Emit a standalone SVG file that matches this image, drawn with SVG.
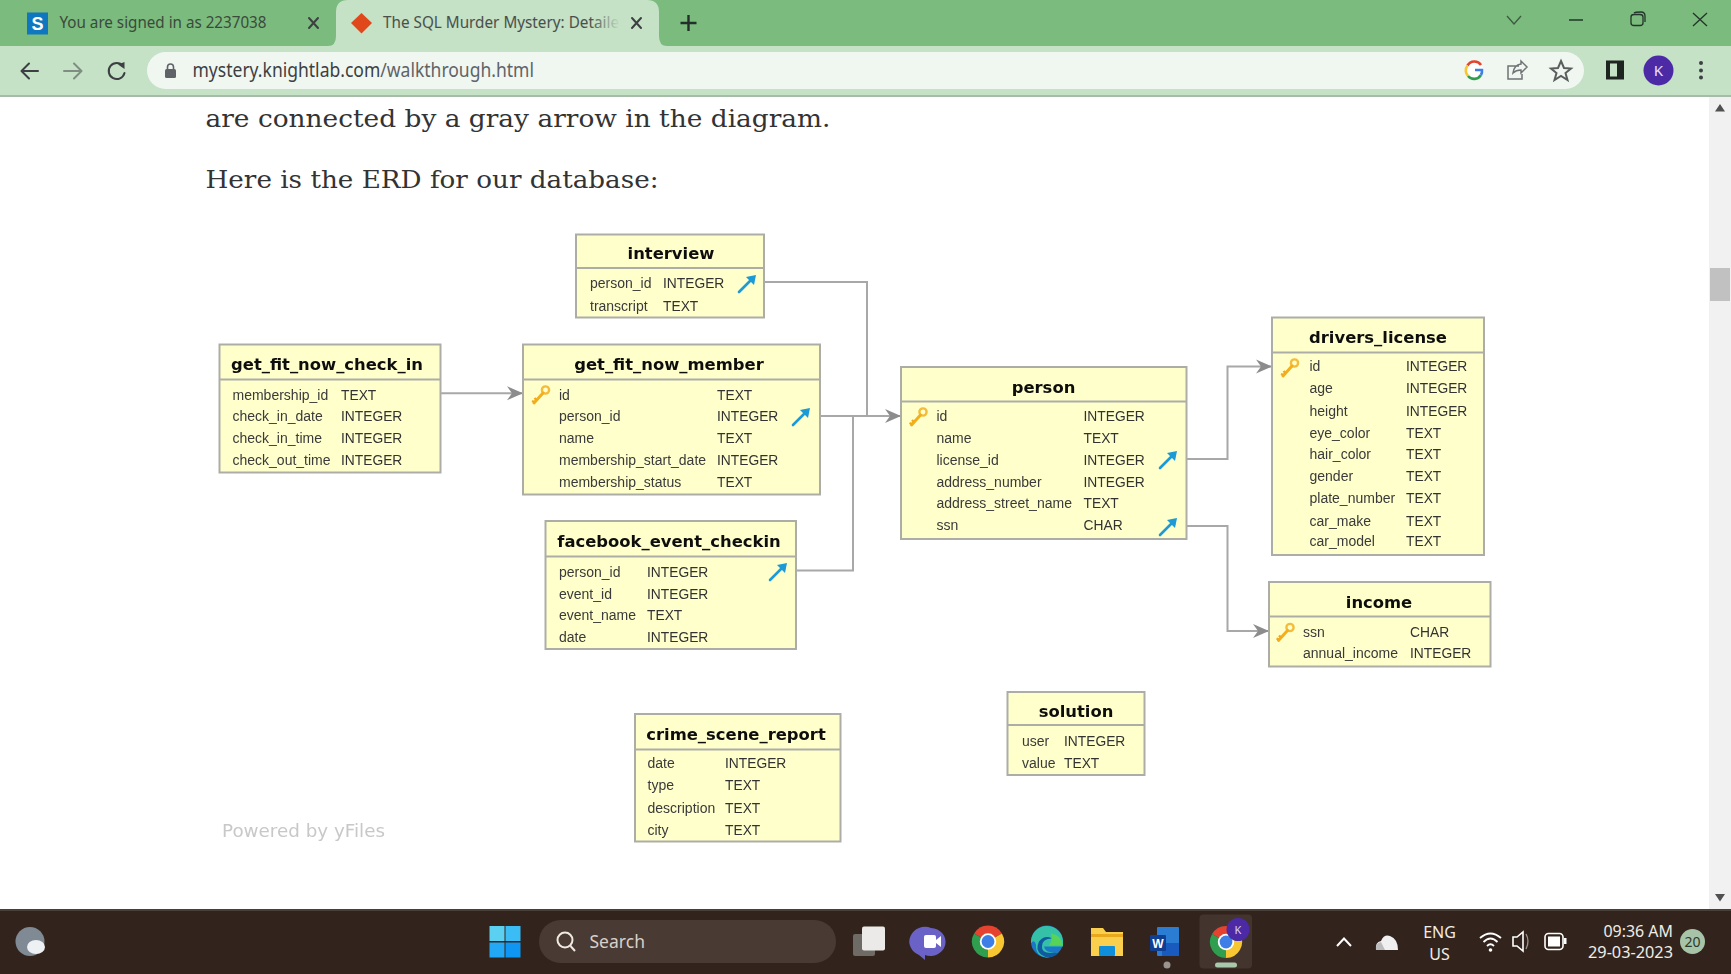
<svg xmlns="http://www.w3.org/2000/svg" xmlns:xlink="http://www.w3.org/1999/xlink" width="1731" height="974" viewBox="0 0 1731 974">
<style>
.box{fill:#ffffcc;stroke:#adada8;stroke-width:2}
.hdr{stroke:#adada8;stroke-width:2;fill:none}
.ttl{font:bold 16.4px "DejaVu Sans",sans-serif;fill:#111;text-anchor:middle}
.f{font:14px "Liberation Sans",Arial,sans-serif;fill:#3a3a3a}
.t{font:13.8px "Liberation Sans",Arial,sans-serif;fill:#333}
.cn{fill:none;stroke:#a8a8a8;stroke-width:2}
.ui{font-family:"Noto Sans","Open Sans",sans-serif}
.body{font-family:"DejaVu Serif","Liberation Serif",serif;font-size:24px;fill:#333}
.ic{fill:none;stroke:#3c4043;stroke-width:2;stroke-linecap:round;stroke-linejoin:round}
.tb{font-family:"Noto Sans","Open Sans",sans-serif;fill:#f0ece6;font-size:16px}
</style>
<defs>
<filter id="soft" x="-2%" y="-2%" width="104%" height="104%"><feGaussianBlur stdDeviation="0.5"/></filter>
<linearGradient id="fade" gradientUnits="userSpaceOnUse" x1="590" y1="0" x2="620" y2="0"><stop offset="0" stop-color="#4a4f4b"/><stop offset="1" stop-color="#c5e1c6"/></linearGradient>
<marker id="ah" viewBox="0 0 16 16" refX="15" refY="8" markerWidth="16" markerHeight="16" markerUnits="userSpaceOnUse" orient="auto"><path d="M0,1 L16,8 L0,15 L5,8 z" fill="#8c8c8c"/></marker>
<g id="key"><circle cx="14.5" cy="5" r="3.6" fill="none" stroke="#f4bc3c" stroke-width="2.4"/><path d="M12,8 L3,18" stroke="#f2b01e" stroke-width="3" fill="none" stroke-linecap="round"/><path d="M3.5,17 L1,16 M5.5,15 L3.5,13" stroke="#f2a81e" stroke-width="2.4" fill="none"/></g>
<g id="fk"><path d="M1,17 L15,3" stroke="#1c9ad6" stroke-width="2.6" fill="none" stroke-linecap="round"/><path d="M8,2 L18,0 L16,10 z" fill="#1c9ad6"/></g>
<g id="chrome"><path d="M0,0 L13.9,-8 A16,16 0 0 0 -13.9,-8 z" fill="#e5432f"/><path d="M0,0 L13.9,-8 A16,16 0 0 1 0,16 z" fill="#f8c630"/><path d="M0,0 L0,16 A16,16 0 0 1 -13.9,-8 z" fill="#2f9f4f"/><circle r="8.2" fill="#fff"/><circle r="6.4" fill="#3d7fe6"/></g>
</defs>
<rect width="1731" height="974" fill="#fff"/>

<g id="browser-chrome">
<rect width="1731" height="46" fill="#7bbb7d"/>
<path d="M328,46 Q336,46 336,36 L336,12 Q336,0 348,0 L647,0 Q659,0 659,12 L659,36 Q659,46 667,46 z" fill="#c5e1c6"/>
<rect y="46" width="1731" height="49" fill="#c5e1c6"/>
<rect y="95" width="1731" height="2" fill="#a6bba8"/>
<rect x="147" y="52" width="1437" height="37" rx="18.5" fill="#f0f7f1"/>
<rect x="27" y="12.5" width="21" height="22" fill="#0f77c0"/>
<text x="37.5" y="30" font-family="Liberation Sans,sans-serif" font-weight="bold" font-size="18" fill="#fff" text-anchor="middle">S</text>
<text class="ui" x="59.5" y="28" font-size="16" fill="#3a4a3c" textLength="207" lengthAdjust="spacingAndGlyphs">You are signed in as 2237038</text>
<path d="M309,18 L318,28 M318,18 L309,28" class="ic"/>
<path d="M361.5,13 L372,23 L361.5,33.5 L351,23 z" fill="#e0481c"/>
<text class="ui" x="383" y="28" font-size="16" fill="url(#fade)" textLength="236" lengthAdjust="spacingAndGlyphs">The SQL Murder Mystery: Detaile</text>
<path d="M632,18 L641,28 M641,18 L632,28" class="ic"/>
<path d="M688.5,15 V31 M680.5,23 H696.5" stroke="#23302a" stroke-width="2.4" fill="none"/>
<path d="M1507,16 L1514,24 L1521,16" fill="none" stroke="#3b5a40" stroke-width="1.3"/>
<path d="M1569,20 H1583" stroke="#22352a" stroke-width="1.5"/>
<path d="M1631,17 Q1631,14.5 1634,14.5 H1640 Q1643,14.5 1643,17 V23 Q1643,25.5 1640,25.5 H1634 Q1631,25.5 1631,23 z M1634,13 Q1635,12 1641,12 Q1645,12 1645,16 V22" fill="none" stroke="#22352a" stroke-width="1.3"/>
<path d="M1693,13 L1707,26 M1707,13 L1693,26" stroke="#22352a" stroke-width="1.3"/>
<path d="M38,71 H22 M29,63.5 L21.5,71 L29,78.5" class="ic"/>
<path d="M64,71 H81 M74,63.5 L81.5,71 L74,78.5" class="ic" style="stroke:#7f8d82"/>
<path d="M123,66 A8,8 0 1 0 124.5,73" class="ic"/><path d="M118,64.5 L124.5,62 L124.5,69 z" fill="#3c4043"/>
<rect x="165" y="69" width="11" height="9" rx="1.5" fill="#5f6368"/><path d="M167.5,69 V67 A3,3 0 0 1 173.5,67 V69" fill="none" stroke="#5f6368" stroke-width="1.6"/>
<text class="ui" x="192.5" y="77" font-size="19" fill="#3c4043" textLength="341.5" lengthAdjust="spacingAndGlyphs">mystery.knightlab.com<tspan fill="#5f6368">/walkthrough.html</tspan></text>
<circle cx="1474" cy="70.5" r="9.5" fill="#fff"/>
<path d="M1481,65 A8,8 0 0 0 1467.5,65.5" fill="none" stroke="#e5432f" stroke-width="2.6"/><path d="M1467.5,65.5 A8,8 0 0 0 1468,76" fill="none" stroke="#f8c630" stroke-width="2.6"/><path d="M1468,76 A8,8 0 0 0 1481,75" fill="none" stroke="#2f9f4f" stroke-width="2.6"/><path d="M1481,75 A8,8 0 0 0 1482,70 H1475" fill="none" stroke="#3d7fe6" stroke-width="2.6"/>
<path d="M1519,66 H1508 V79 H1522 V74 M1513,73 Q1514,65 1521,64 V61 L1527,67 L1521,73 V70 Q1516,70 1513,73 z" fill="none" stroke="#6f7376" stroke-width="1.5"/>
<path d="M1561,61 L1564,68 L1571,68.5 L1565.5,73 L1567.5,80 L1561,76 L1554.5,80 L1556.5,73 L1551,68.5 L1558,68 z" fill="none" stroke="#5a5f5d" stroke-width="2"/>
<rect x="1606" y="60.5" width="18" height="19" fill="#1e2420"/><rect x="1610" y="63.5" width="7" height="13" fill="#c5e1c6"/>
<circle cx="1658.5" cy="70.5" r="15" fill="#4c2aa6"/>
<text x="1658.5" y="76" class="ui" font-size="15" fill="#e8e0f8" text-anchor="middle">K</text>
<circle cx="1701" cy="63" r="2" fill="#3c4043"/><circle cx="1701" cy="70.5" r="2" fill="#3c4043"/><circle cx="1701" cy="77.5" r="2" fill="#3c4043"/>
</g>

<g id="page-text">
<text class="body" x="205.5" y="126.5" textLength="625" lengthAdjust="spacingAndGlyphs">are connected by a gray arrow in the diagram.</text>
<text class="body" x="205.5" y="188" textLength="453" lengthAdjust="spacingAndGlyphs">Here is the ERD for our database:</text>
</g>

<g id="scrollbar">
<rect x="1709" y="97" width="22" height="812" fill="#f1f1f1"/>
<path d="M1720,104 L1725,111.5 H1715 z" fill="#505050"/>
<rect x="1710" y="268" width="20" height="33" fill="#c1c1c1"/>
<path d="M1715,894 H1725 L1720,901.5 z" fill="#505050"/>
</g>

<g filter="url(#soft)">
<g id="connectors">
<path class="cn" d="M441,393.3 H522" marker-end="url(#ah)"/>
<path class="cn" d="M765,282 H867 V416"/>
<path class="cn" d="M796,570.5 H853 V416"/>
<path class="cn" d="M820,416 H900" marker-end="url(#ah)"/>
<path class="cn" d="M1186,459 H1227.5 V366.5 H1271" marker-end="url(#ah)"/>
<path class="cn" d="M1186,526 H1227.5 V631 H1268" marker-end="url(#ah)"/>
</g>

<g id="interview">
<rect class="box" x="576" y="234.5" width="188" height="83"/><path class="hdr" d="M576,268 H764"/>
<text class="ttl" x="671" y="259">interview</text>
<text class="f" x="590" y="288">person_id</text><text class="t" x="663" y="288">INTEGER</text>
<text class="f" x="590" y="310.5">transcript</text><text class="t" x="663" y="310.5">TEXT</text>
<use href="#fk" x="738" y="275"/>
</g>

<g id="get_fit_now_check_in">
<rect class="box" x="219.5" y="344.5" width="221" height="128"/><path class="hdr" d="M219.5,379.5 H440.5"/>
<text class="ttl" x="327" y="370">get_fit_now_check_in</text>
<text class="f" x="232.5" y="399.5">membership_id</text><text class="t" x="341" y="399.5">TEXT</text>
<text class="f" x="232.5" y="420.5">check_in_date</text><text class="t" x="341" y="420.5">INTEGER</text>
<text class="f" x="232.5" y="442.5">check_in_time</text><text class="t" x="341" y="442.5">INTEGER</text>
<text class="f" x="232.5" y="465">check_out_time</text><text class="t" x="341" y="465">INTEGER</text>
</g>

<g id="get_fit_now_member">
<rect class="box" x="523" y="344.5" width="297" height="150"/><path class="hdr" d="M523,379.5 H820"/>
<text class="ttl" x="669" y="370">get_fit_now_member</text>
<text class="f" x="559" y="399.5">id</text><text class="t" x="717" y="399.5">TEXT</text>
<text class="f" x="559" y="420.5">person_id</text><text class="t" x="717" y="420.5">INTEGER</text>
<text class="f" x="559" y="442.5">name</text><text class="t" x="717" y="442.5">TEXT</text>
<text class="f" x="559" y="465">membership_start_date</text><text class="t" x="717" y="465">INTEGER</text>
<text class="f" x="559" y="487">membership_status</text><text class="t" x="717" y="487">TEXT</text>
<use href="#key" x="531" y="385"/><use href="#fk" x="792" y="408"/>
</g>

<g id="facebook_event_checkin">
<rect class="box" x="545.5" y="521" width="250.5" height="128"/><path class="hdr" d="M545.5,556.5 H796"/>
<text class="ttl" x="669" y="547">facebook_event_checkin</text>
<text class="f" x="559" y="576.5">person_id</text><text class="t" x="647" y="576.5">INTEGER</text>
<text class="f" x="559" y="598.5">event_id</text><text class="t" x="647" y="598.5">INTEGER</text>
<text class="f" x="559" y="619.5">event_name</text><text class="t" x="647" y="619.5">TEXT</text>
<text class="f" x="559" y="641.5">date</text><text class="t" x="647" y="641.5">INTEGER</text>
<use href="#fk" x="769" y="563"/>
</g>

<g id="person">
<rect class="box" x="901" y="367" width="285.5" height="172"/><path class="hdr" d="M901,401.5 H1186.5"/>
<text class="ttl" x="1043.5" y="392.5">person</text>
<text class="f" x="936.5" y="420.5">id</text><text class="t" x="1083.5" y="420.5">INTEGER</text>
<text class="f" x="936.5" y="442.5">name</text><text class="t" x="1083.5" y="442.5">TEXT</text>
<text class="f" x="936.5" y="465">license_id</text><text class="t" x="1083.5" y="465">INTEGER</text>
<text class="f" x="936.5" y="487">address_number</text><text class="t" x="1083.5" y="487">INTEGER</text>
<text class="f" x="936.5" y="508">address_street_name</text><text class="t" x="1083.5" y="508">TEXT</text>
<text class="f" x="936.5" y="530">ssn</text><text class="t" x="1083.5" y="530">CHAR</text>
<use href="#key" x="908.5" y="407"/><use href="#fk" x="1159" y="451"/><use href="#fk" x="1159" y="518"/>
</g>

<g id="drivers_license">
<rect class="box" x="1272" y="317.5" width="212" height="237.5"/><path class="hdr" d="M1272,352.5 H1484"/>
<text class="ttl" x="1378" y="343">drivers_license</text>
<text class="f" x="1309.5" y="371">id</text><text class="t" x="1406" y="371">INTEGER</text>
<text class="f" x="1309.5" y="393">age</text><text class="t" x="1406" y="393">INTEGER</text>
<text class="f" x="1309.5" y="415.5">height</text><text class="t" x="1406" y="415.5">INTEGER</text>
<text class="f" x="1309.5" y="438">eye_color</text><text class="t" x="1406" y="438">TEXT</text>
<text class="f" x="1309.5" y="458.5">hair_color</text><text class="t" x="1406" y="458.5">TEXT</text>
<text class="f" x="1309.5" y="481">gender</text><text class="t" x="1406" y="481">TEXT</text>
<text class="f" x="1309.5" y="503">plate_number</text><text class="t" x="1406" y="503">TEXT</text>
<text class="f" x="1309.5" y="525.5">car_make</text><text class="t" x="1406" y="525.5">TEXT</text>
<text class="f" x="1309.5" y="546">car_model</text><text class="t" x="1406" y="546">TEXT</text>
<use href="#key" x="1280" y="358"/>
</g>

<g id="income">
<rect class="box" x="1269" y="582" width="221.5" height="84.5"/><path class="hdr" d="M1269,616.5 H1490.5"/>
<text class="ttl" x="1379" y="608">income</text>
<text class="f" x="1303" y="637">ssn</text><text class="t" x="1410" y="637">CHAR</text>
<text class="f" x="1303" y="658">annual_income</text><text class="t" x="1410" y="658">INTEGER</text>
<use href="#key" x="1275.5" y="622.5"/>
</g>

<g id="crime_scene_report">
<rect class="box" x="635" y="714" width="205.5" height="127.5"/><path class="hdr" d="M635,749.5 H840.5"/>
<text class="ttl" x="736" y="740">crime_scene_report</text>
<text class="f" x="647.5" y="767.5">date</text><text class="t" x="725" y="767.5">INTEGER</text>
<text class="f" x="647.5" y="790">type</text><text class="t" x="725" y="790">TEXT</text>
<text class="f" x="647.5" y="812.5">description</text><text class="t" x="725" y="812.5">TEXT</text>
<text class="f" x="647.5" y="835">city</text><text class="t" x="725" y="835">TEXT</text>
</g>

<g id="solution">
<rect class="box" x="1007.5" y="692" width="137" height="83"/><path class="hdr" d="M1007.5,725 H1144.5"/>
<text class="ttl" x="1076" y="716.5">solution</text>
<text class="f" x="1022" y="745.5">user</text><text class="t" x="1064" y="745.5">INTEGER</text>
<text class="f" x="1022" y="767.5">value</text><text class="t" x="1064" y="767.5">TEXT</text>
</g>

<text id="powered" x="222" y="837" font-family="DejaVu Sans,sans-serif" font-size="18" fill="#c8c8c8" textLength="163" lengthAdjust="spacingAndGlyphs">Powered by yFiles</text>
</g>

<g id="taskbar">
<rect y="909" width="1731" height="65" fill="#32241d"/>
<rect y="909" width="1731" height="2" fill="#4a3f38"/>
<circle cx="30" cy="941.5" r="14.5" fill="#7f8a94"/><ellipse cx="36" cy="947" rx="9" ry="7" fill="#eef1f3"/>
<rect x="489.5" y="926" width="15" height="15" fill="#5cd0f0"/><rect x="505.5" y="926" width="15" height="15" fill="#3cbcf5"/><rect x="489.5" y="942.5" width="15" height="15" fill="#22a8f4"/><rect x="505.5" y="942.5" width="15" height="15" fill="#0f96f2"/>
<rect x="539" y="920" width="297" height="43" rx="21.5" fill="#493a33"/>
<circle cx="565" cy="940" r="7.5" fill="none" stroke="#efe9e2" stroke-width="2"/><path d="M570.5,946 L575,951" stroke="#efe9e2" stroke-width="2"/>
<text class="tb" x="589.5" y="948" font-size="18" style="fill:#d8d0c8;font-size:18px" textLength="55.5" lengthAdjust="spacingAndGlyphs">Search</text>
<rect x="853" y="934" width="22" height="22" rx="2" fill="#6e6a66"/><rect x="862" y="926.5" width="23" height="24" rx="2" fill="#eceae8"/>
<g transform="translate(4,0)"><path d="M927,928 a15,14 0 1 1 -6,27 v5 l-6,-5 a15,14 0 0 1 12,-27z" fill="#6b62c8"/><rect x="920" y="935" width="12" height="13" rx="2" fill="#fff"/><path d="M932,940 L937,936 V947 L932,943z" fill="#fff"/></g>
<use href="#chrome" x="988" y="941.5"/>
<g transform="translate(1047,941.5)"><circle r="16" fill="#1b78c8"/><path d="M-16,2 A16,16 0 0 1 16,-1 L16,5 H-3 Q-2,12 10,11 Q4,16 -1,16 Q-12,14 -11,3 Q-13,-3 -16,2z" fill="#35c1a8"/><path d="M-5,5 Q-6,13 9,11 L11,12 Q2,19 -6,13 Q-12,8 -8,0 Q-2,-7 5,-3 Q-5,-3 -5,5z" fill="#0f5aa0"/><path d="M4,-8 Q14,-7 16,4 L2,4 Q6,-2 4,-8z" fill="#57d35a"/></g>
<path d="M1091,928 H1103 L1106,932 H1123 V956 H1091 z" fill="#fbcf4e"/><rect x="1091" y="934" width="32" height="3" fill="#e8a91c"/><rect x="1099" y="946" width="16" height="10" rx="1" fill="#0f8fdb"/>
<rect x="1157" y="927" width="22" height="29" rx="1" fill="#2b7cd3"/><rect x="1162" y="943" width="17" height="13" fill="#185abd"/><rect x="1150" y="935" width="16" height="16" rx="1" fill="#103f91"/><text x="1158" y="948" font-family="Liberation Sans,sans-serif" font-weight="bold" font-size="12" fill="#fff" text-anchor="middle">W</text>
<circle cx="1167" cy="965" r="3.5" fill="#9a9490"/>
<rect x="1199.5" y="914.5" width="52.5" height="54" rx="4" fill="#43352e"/>
<use href="#chrome" x="1226" y="942"/>
<circle cx="1238" cy="929.5" r="11.5" fill="#4c2aa6"/><text x="1238" y="934" class="ui" font-size="11" fill="#d8d0f0" text-anchor="middle">K</text>
<rect x="1215" y="962.5" width="22" height="5" rx="2.5" fill="#a9c9ab"/>
<path d="M1337,946 L1344,938.5 L1351,946" fill="none" stroke="#fff" stroke-width="2"/>
<path d="M1376,950 Q1375,942 1381,941 Q1384,934 1390,936 Q1398,939 1398,950 z" fill="#f0f0f0"/><path d="M1376,950 Q1375,943 1381,942 L1385,950z" fill="#bcbcbc"/>
<text class="tb" x="1439.5" y="938" text-anchor="middle">ENG</text><text class="tb" x="1439.5" y="959.5" text-anchor="middle">US</text>
<path d="M1480,938 Q1490.5,929 1501,938 M1483.5,942 Q1490.5,935 1497.5,942 M1487,946 Q1490.5,942.5 1494,946" fill="none" stroke="#fff" stroke-width="1.8"/><circle cx="1490.5" cy="950" r="1.8" fill="#fff"/>
<path d="M1513,937 H1517 L1523,932 V951 L1517,946 H1513 z" fill="none" stroke="#fff" stroke-width="1.6"/><path d="M1526,934 Q1530,941 1526,949" fill="none" stroke="#9a9490" stroke-width="1.3"/>
<rect x="1545" y="933.5" width="18" height="16" rx="3.5" fill="none" stroke="#fff" stroke-width="1.6"/><rect x="1548" y="936.5" width="12" height="10" fill="#fff"/><rect x="1564" y="938" width="2.5" height="6" fill="#fff"/>
<text class="tb" x="1673" y="936.5" text-anchor="end" textLength="69.5" lengthAdjust="spacingAndGlyphs">09:36 AM</text>
<text class="tb" x="1673" y="958" text-anchor="end" textLength="85" lengthAdjust="spacingAndGlyphs">29-03-2023</text>
<circle cx="1692.5" cy="941.5" r="12.5" fill="#a8c4a8"/><text x="1692.5" y="946.5" class="ui" font-size="14" fill="#2b3a2e" text-anchor="middle">20</text>
</g>
</svg>
